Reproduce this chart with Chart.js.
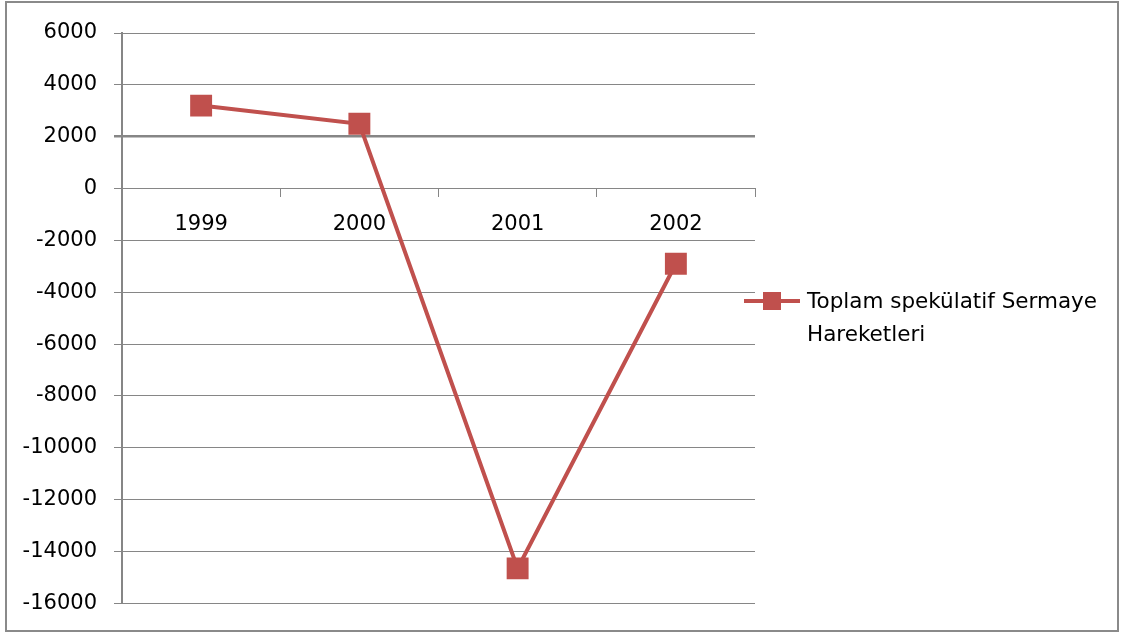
<!DOCTYPE html>
<html>
<head>
<meta charset="utf-8">
<script src="https://cdn.jsdelivr.net/npm/chart.js@4/dist/chart.umd.min.js"></script>
<style>
  html, body { margin: 0; padding: 0; background: #ffffff; }
  #wrap { width: 1125px; height: 633px; position: relative; }
</style>
</head>
<body>
<div id="wrap"><canvas id="c" width="1125" height="633"></canvas></div>
<script>
// Yıllar ve toplam spekülatif sermaye hareketleri (milyon $)
const years = ['1999', '2000', '2001', '2002'];
const seriesValues = [3200, 2500, -14650, -2900];
const seriesName = ['Toplam spekülatif Sermaye', 'Hareketleri'];
const yTicks = [6000, 4000, 2000, 0, -2000, -4000, -6000, -8000, -10000, -12000, -14000, -16000];

const RED = '#C0504D';
const GRID = '#868686';
const FONT = 'DejaVu Sans';

// Outer frame and a two-line legend entry on the right
const framePlugin = {
  id: 'frameAndLegend',
  afterDraw(chart) {
    const ctx = chart.ctx;
    ctx.save();
    ctx.strokeStyle = '#8a8a8a';
    ctx.lineWidth = 2;
    ctx.strokeRect(6, 2, 1112, 629);

    const ly = 301;
    ctx.strokeStyle = RED;
    ctx.lineWidth = 4;
    ctx.beginPath();
    ctx.moveTo(744, ly);
    ctx.lineTo(800, ly);
    ctx.stroke();
    ctx.fillStyle = RED;
    ctx.fillRect(763, ly - 9, 18, 18);

    ctx.fillStyle = '#000000';
    ctx.font = '21.5px "' + FONT + '"';
    ctx.textBaseline = 'middle';
    ctx.textAlign = 'left';
    ctx.fillText(seriesName[0], 807, 302);
    ctx.fillText(seriesName[1], 807, 335);
    ctx.restore();
  }
};

new Chart(document.getElementById('c'), {
  type: 'line',
  data: {
    labels: years,
    datasets: [{
      label: seriesName.join(' '),
      data: seriesValues,
      borderColor: RED,
      backgroundColor: RED,
      borderWidth: 4,
      tension: 0,
      pointStyle: 'rect',
      pointRadius: 15.5,
      pointHoverRadius: 15.5,
      pointBorderWidth: 0,
      pointBackgroundColor: RED
    }]
  },
  options: {
    responsive: false,
    animation: false,
    events: [],
    layout: { padding: { left: 0, top: 33, right: 370, bottom: 29 } },
    plugins: { legend: { display: false }, tooltip: { enabled: false } },
    scales: {
      x: {
        position: { y: 0 },
        offset: true,
        grid: {
          offset: true,
          drawOnChartArea: false,
          drawTicks: true,
          tickLength: 8,
          color: GRID,
          lineWidth: 1
        },
        border: { display: true, color: GRID, width: 1 },
        ticks: { color: '#000000', font: { family: FONT, size: 21 }, padding: 15, maxRotation: 0 }
      },
      y: {
        min: -16000,
        max: 6000,
        afterFit(scale) { scale.width = 122; },
        afterBuildTicks(scale) { scale.ticks = yTicks.map(v => ({ value: v })); },
        grid: {
          color: GRID,
          lineWidth: (c) => (c.tick && c.tick.value === 2000 ? 2.5 : 1),
          tickLength: 8
        },
        border: { display: true, color: GRID, width: 2 },
        ticks: {
          color: '#000000',
          font: { family: FONT, size: 21 },
          padding: 17,
          callback: (v) => String(v)
        }
      }
    }
  },
  plugins: [framePlugin]
});
</script>
</body>
</html>
